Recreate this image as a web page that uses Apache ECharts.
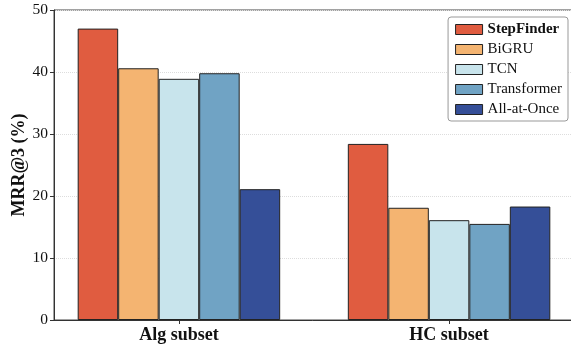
<!DOCTYPE html>
<html><head><meta charset="utf-8">
<script src="https://cdn.jsdelivr.net/npm/echarts@6/dist/echarts.min.js"></script>
<style>html,body{margin:0;padding:0;background:#fff}#c{width:571px;height:346px}</style>
</head><body><div id="c"></div>
<script>
const categories = ['Alg subset', 'HC subset'];
const seriesNames = ['StepFinder', 'BiGRU', 'TCN', 'Transformer', 'All-at-Once'];
const stepFinder = [47.0, 28.4];
const biGRU = [40.6, 18.1];
const tcn = [38.9, 16.1];
const transformer = [39.8, 15.5];
const allAtOnce = [21.1, 18.3];
const yTicks = [0, 10, 20, 30, 40, 50];

const values = [stepFinder, biGRU, tcn, transformer, allAtOnce];
const colors = ['#E05C40', '#F4B471', '#C8E4EC', '#70A3C4', '#354F98'];
const font = 'Liberation Serif, Times New Roman, serif';

const chart = echarts.init(document.getElementById('c'), null, {renderer: 'canvas'});
chart.setOption({
  animation: false,
  grid: {left: 54, right: -3, top: 10, bottom: 26, containLabel: false, outerBoundsMode: 'none',
    show: true, borderColor: '#444', borderWidth: 1},
  legend: {
    orient: 'vertical', right: 3, top: 17,
    padding: [5, 6, 4, 7],
    icon: 'rect',
    itemWidth: 27, itemHeight: 10, itemGap: 5,
    itemStyle: {borderColor: '#222', borderWidth: 1},
    borderColor: '#999', borderWidth: 1, borderRadius: 3, backgroundColor: '#fff',
    textStyle: {fontFamily: font, fontSize: 15, color: '#111'},
    data: seriesNames.map((n, i) => i === 0 ? {name: n, textStyle: {fontWeight: 'bold'}} : {name: n})
  },
  xAxis: {
    type: 'value', min: -0.4625, max: 1.4625,
    axisLine: {show: true, onZero: false, lineStyle: {color: '#333', width: 1}},
    axisTick: {show: true, customValues: [0, 1], length: 4, inside: false, lineStyle: {color: '#333'}},
    axisLabel: {customValues: [0, 1], formatter: v => categories[Math.round(v)] || '',
      fontFamily: font, fontSize: 18, fontWeight: 'bold', color: '#111', margin: 6},
    splitLine: {show: false}
  },
  yAxis: {
    type: 'value', min: 0, max: 50, interval: 10,
    name: 'MRR@3 (%)', nameLocation: 'middle', nameGap: 26, nameMoveOverlap: false,
    nameTextStyle: {fontFamily: font, fontSize: 18, fontWeight: 'bold', color: '#111'},
    axisLine: {show: true, onZero: false, lineStyle: {color: '#333', width: 1}},
    axisTick: {show: true, length: 4, lineStyle: {color: '#333'}},
    axisLabel: {fontFamily: font, fontSize: 15.5, color: '#111', margin: 6,
      formatter: v => yTicks.includes(v) ? String(v) : ''},
    splitLine: {show: true, lineStyle: {color: '#ddd', type: 'dotted', width: 1}}
  },
  series: seriesNames.map((n, i) => ({
    name: n, type: 'bar', barWidth: 40.5, barGap: '0%',
    itemStyle: {color: colors[i], borderColor: '#222', borderWidth: 1},
    data: values[i].map((v, j) => [j, v])
  }))
});
</script></body></html>
